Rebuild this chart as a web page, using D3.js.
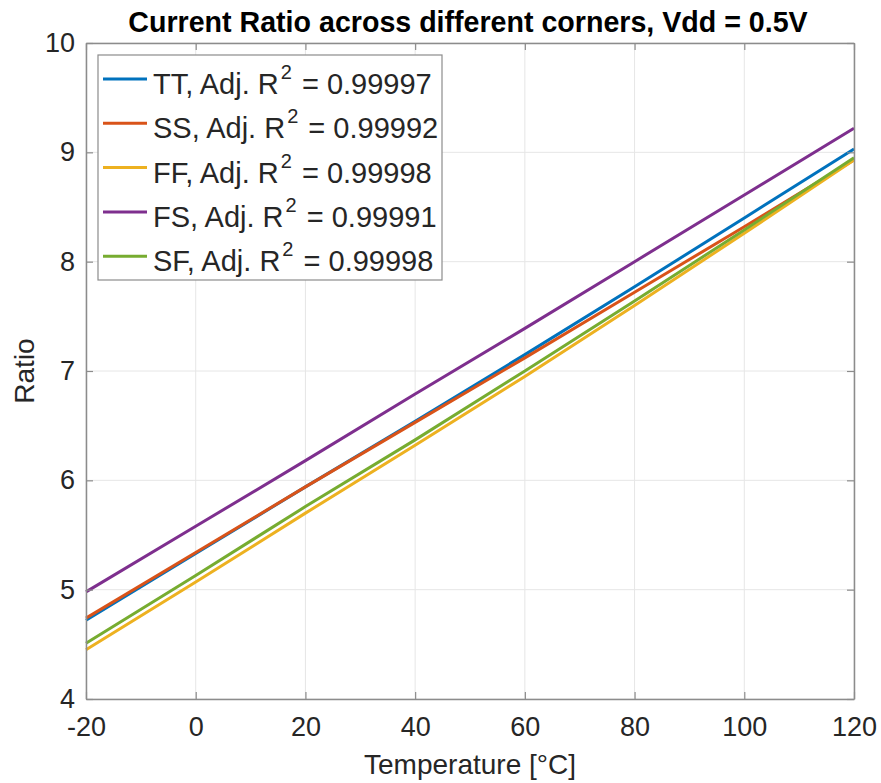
<!DOCTYPE html>
<html lang="en">
<head>
<meta charset="UTF-8">
<title>Current Ratio</title>
<script src="https://cdn.jsdelivr.net/npm/d3@7"></script>
<style>
  body { margin: 0; background: #fff; }
  text { font-family: "Liberation Sans", Arial, sans-serif; fill: #262626; }
</style>
</head>
<body>
<div id="chart"></div>
<script>
// temperatures (°C)
var temps = [-20, 0, 20, 40, 60, 80, 100, 120];
// ratio for each corner
var tt = [4.72, 5.33, 5.94, 6.54, 7.15, 7.77, 8.40, 9.03];
var ss = [4.74, 5.34, 5.94, 6.53, 7.12, 7.72, 8.32, 8.93];
var ff = [4.45, 5.07, 5.70, 6.32, 6.95, 7.60, 8.26, 8.93];
var fs = [4.98, 5.58, 6.18, 6.79, 7.39, 8.00, 8.61, 9.22];
var sf = [4.51, 5.13, 5.76, 6.37, 7.00, 7.64, 8.29, 8.95];
var names = ["TT", "SS", "FF", "FS", "SF"];
var r2 = ["0.99997", "0.99992", "0.99998", "0.99991", "0.99998"];
var colors = ["#0072BD", "#D95319", "#EDB120", "#7E2F8E", "#77AC30"];
var xTicks = [-20, 0, 20, 40, 60, 80, 100, 120];
var yTicks = [4, 5, 6, 7, 8, 9, 10];

var width = 881, height = 783;
var margin = {top: 43, right: 27, bottom: 84, left: 86};
var w = width - margin.left - margin.right;
var h = height - margin.top - margin.bottom;

var svg = d3.select("#chart").append("svg")
    .attr("width", width)
    .attr("height", height);

var g = svg.append("g")
    .attr("transform", "translate(" + margin.left + "," + margin.top + ")");

var x = d3.scaleLinear().domain([-20, 120]).range([0, w]);
var y = d3.scaleLinear().domain([4, 10]).range([h, 0]);

// grid
g.selectAll(".gx").data(xTicks).join("line")
    .attr("x1", d => x(d)).attr("x2", d => x(d))
    .attr("y1", 0).attr("y2", h)
    .attr("stroke", "#e6e6e6").attr("stroke-width", 1);
g.selectAll(".gy").data(yTicks).join("line")
    .attr("y1", d => y(d)).attr("y2", d => y(d))
    .attr("x1", 0).attr("x2", w)
    .attr("stroke", "#e6e6e6").attr("stroke-width", 1);

// lines
var series = [tt, ss, ff, fs, sf];
var line = d3.line()
    .x((d, i) => x(temps[i]))
    .y(d => y(d));

series.forEach(function(s, k) {
    g.append("path")
        .datum(s)
        .attr("d", line)
        .attr("fill", "none")
        .attr("stroke", colors[k])
        .attr("stroke-width", 3);
});

// axes (ticks inward, on all four sides)
var tickLen = 7;
var fmt = d => String(d);
function styleText(a) {
    a.attr("font-size", null).attr("font-family", null);
    a.selectAll("text").style("font-size", "27px").attr("fill", "#262626");
}
g.append("g")
    .attr("transform", "translate(0," + h + ")")
    .call(d3.axisBottom(x).tickValues(xTicks).tickFormat(fmt).tickSizeInner(-tickLen).tickSizeOuter(0).tickPadding(18))
    .call(styleText);
g.append("g")
    .call(d3.axisLeft(y).tickValues(yTicks).tickFormat(fmt).tickSizeInner(-tickLen).tickSizeOuter(0).tickPadding(11))
    .call(styleText);
g.append("g")
    .call(d3.axisTop(x).tickValues(xTicks).tickSizeInner(-tickLen).tickSizeOuter(0).tickFormat(""));
g.append("g")
    .attr("transform", "translate(" + w + ",0)")
    .call(d3.axisRight(y).tickValues(yTicks).tickSizeInner(-tickLen).tickSizeOuter(0).tickFormat(""));
g.selectAll(".domain").attr("stroke", "#8c8c8c").attr("stroke-width", 1.5);
g.selectAll(".tick line").attr("stroke", "#8c8c8c").attr("stroke-width", 1.2);

// labels
svg.append("text")
    .attr("x", 468).attr("y", 32)
    .attr("text-anchor", "middle")
    .style("font-size", "28.6px").attr("font-weight", "bold")
    .style("fill", "#000")
    .text("Current Ratio across different corners, Vdd = 0.5V");
svg.append("text")
    .attr("x", margin.left + w / 2).attr("y", 774)
    .attr("text-anchor", "middle")
    .style("font-size", "28px")
    .text("Temperature [°C]");
svg.append("text")
    .attr("transform", "translate(34," + (margin.top + h / 2) + ") rotate(-90)")
    .attr("text-anchor", "middle")
    .style("font-size", "28px")
    .text("Ratio");

// legend
var lg = g.append("g").attr("transform", "translate(12,12)");
lg.append("rect")
    .attr("width", 344).attr("height", 225)
    .attr("fill", "#fff").attr("stroke", "#8c8c8c").attr("stroke-width", 1.2);
names.forEach(function(n, k) {
    var yy = 24 + k * 44.3;
    lg.append("line")
        .attr("x1", 5).attr("x2", 49)
        .attr("y1", yy).attr("y2", yy)
        .attr("stroke", colors[k]).attr("stroke-width", 3);
    var t = lg.append("text")
        .attr("x", 55).attr("y", yy + 15)
        .style("font-size", "29px");
    t.append("tspan").text(n + ", Adj. R");
    t.append("tspan").attr("dy", -15).attr("dx", 2).style("font-size", "20px").text("2");
    t.append("tspan").attr("dy", 15).attr("dx", 2).text(" = " + r2[k]);
});
</script>
</body>
</html>
